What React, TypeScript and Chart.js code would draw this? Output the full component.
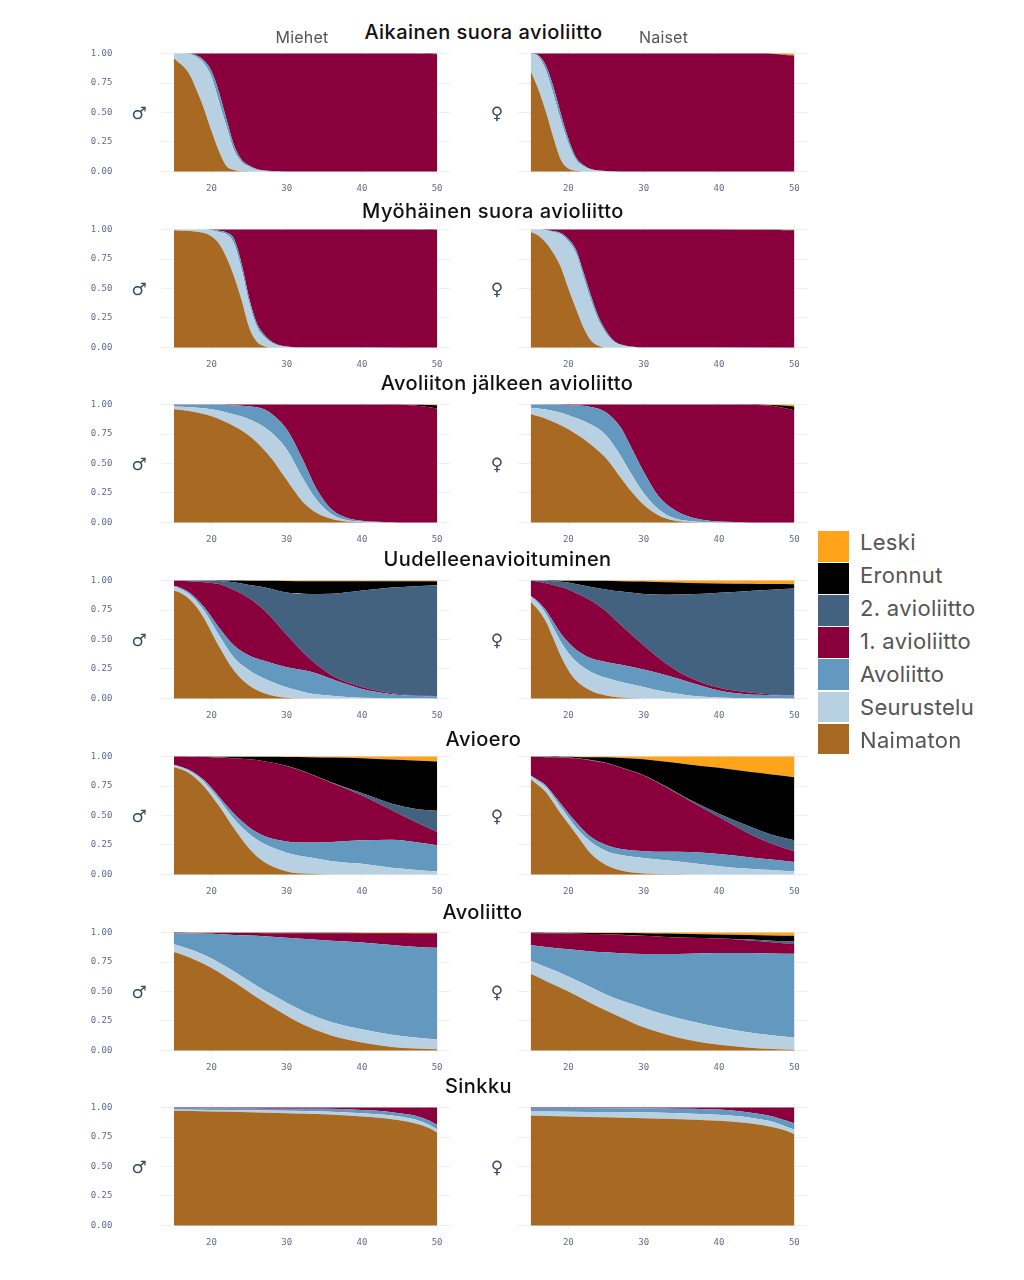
import React, { useEffect, useRef } from "react";
import { Chart, registerables } from "chart.js";

Chart.register(...registerables);

const STATE_NAMES = ["Naimaton", "Seurustelu", "Avoliitto", "1. avioliitto", "2. avioliitto", "Eronnut", "Leski"];
const STATE_COLORS = ["#a86922", "#b8d1e2", "#6399bf", "#89003c", "#42627f", "#000000", "#ffa31a"];
const PANEL_TITLES = ["Aikainen suora avioliitto", "Myöhäinen suora avioliitto", "Avoliiton jälkeen avioliitto", "Uudelleenavioituminen", "Avioero", "Avoliitto", "Sinkku"];
const Y_TICKS = [0, 0.25, 0.5, 0.75, 1];
const X_TICKS = [20, 30, 40, 50];

// Upper edge of each state in the stack, per panel and sex.
const A_M_AGE = [15, 17, 18, 19, 20, 21, 22, 23, 24, 25, 26, 27, 28, 30, 46, 48, 50];
const A_M_N = [0.96, 0.83, 0.69, 0.53, 0.34, 0.17, 0.045, 0.012, 0.001, 0, 0, 0, 0, 0, 0, 0, 0];
const A_M_S = [1, 0.995, 0.97, 0.915, 0.8, 0.59, 0.38, 0.18, 0.08, 0.04, 0.015, 0.005, 0, 0, 0, 0, 0];
const A_M_A = [1, 1, 0.985, 0.94, 0.85, 0.67, 0.44, 0.22, 0.1, 0.05, 0.02, 0.008, 0.003, 0, 0, 0, 0];
const A_M_1 = [1, 1, 1, 1, 1, 1, 1, 1, 1, 1, 1, 1, 1, 1, 1, 0.998, 0.995];
const A_M_2 = [1, 1, 1, 1, 1, 1, 1, 1, 1, 1, 1, 1, 1, 1, 1, 0.998, 0.995];
const A_M_E = [1, 1, 1, 1, 1, 1, 1, 1, 1, 1, 1, 1, 1, 1, 1, 1, 0.999];

const A_W_AGE = [15, 16, 17, 18, 19, 20, 21, 22, 23, 24, 25, 27, 46, 47, 48, 49, 50];
const A_W_N = [0.85, 0.7, 0.51, 0.29, 0.1, 0.025, 0.005, 0, 0, 0, 0, 0, 0, 0, 0, 0, 0];
const A_W_S = [1, 0.975, 0.86, 0.66, 0.435, 0.24, 0.1, 0.045, 0.017, 0.006, 0.002, 0, 0, 0, 0, 0, 0];
const A_W_A = [1, 0.985, 0.9, 0.72, 0.49, 0.28, 0.12, 0.055, 0.02, 0.008, 0.003, 0, 0, 0, 0, 0, 0];
const A_W_1 = [1, 1, 1, 1, 1, 1, 1, 1, 1, 1, 1, 1, 1, 0.998, 0.993, 0.985, 0.977];
const A_W_2 = [1, 1, 1, 1, 1, 1, 1, 1, 1, 1, 1, 1, 1, 0.998, 0.993, 0.985, 0.977];
const A_W_E = [1, 1, 1, 1, 1, 1, 1, 1, 1, 1, 1, 1, 1, 0.999, 0.995, 0.99, 0.982];

const B_M_AGE = [15, 19, 20, 21, 22, 23, 24, 25, 26, 27, 28, 29, 30, 32, 46, 48, 50];
const B_M_N = [0.995, 0.97, 0.94, 0.88, 0.76, 0.6, 0.4, 0.17, 0.05, 0.01, 0, 0, 0, 0, 0, 0, 0];
const B_M_S = [1, 1, 0.995, 0.98, 0.96, 0.88, 0.66, 0.38, 0.18, 0.09, 0.04, 0.015, 0.005, 0, 0, 0, 0];
const B_M_A = [1, 1, 0.998, 0.99, 0.975, 0.92, 0.71, 0.42, 0.21, 0.11, 0.05, 0.02, 0.008, 0.001, 0, 0, 0];
const B_M_1 = [1, 1, 1, 1, 1, 1, 1, 1, 1, 1, 1, 1, 1, 1, 1, 0.999, 0.996];
const B_M_2 = [1, 1, 1, 1, 1, 1, 1, 1, 1, 1, 1, 1, 1, 1, 1, 0.999, 0.996];
const B_M_E = [1, 1, 1, 1, 1, 1, 1, 1, 1, 1, 1, 1, 1, 1, 1, 1, 0.999];

const B_W_AGE = [15, 16, 17, 18, 19, 20, 21, 22, 23, 24, 25, 26, 27, 28, 30, 48, 50];
const B_W_N = [0.98, 0.95, 0.89, 0.8, 0.68, 0.5, 0.33, 0.17, 0.06, 0.015, 0, 0, 0, 0, 0, 0, 0];
const B_W_S = [1, 1, 0.995, 0.98, 0.96, 0.9, 0.8, 0.6, 0.4, 0.23, 0.12, 0.05, 0.02, 0.006, 0, 0, 0];
const B_W_A = [1, 1, 0.998, 0.985, 0.97, 0.92, 0.83, 0.64, 0.44, 0.26, 0.14, 0.06, 0.025, 0.01, 0.001, 0, 0];
const B_W_1 = [1, 1, 1, 1, 1, 1, 1, 1, 1, 1, 1, 1, 1, 1, 1, 0.997, 0.988];
const B_W_2 = [1, 1, 1, 1, 1, 1, 1, 1, 1, 1, 1, 1, 1, 1, 1, 0.997, 0.988];
const B_W_E = [1, 1, 1, 1, 1, 1, 1, 1, 1, 1, 1, 1, 1, 1, 1, 0.999, 0.993];

const C_AGE = [15, 17, 20, 23, 25, 27, 28, 30, 32, 34, 36, 38, 40, 42, 44, 46, 48, 50];
const C_M_N = [0.96, 0.945, 0.9, 0.815, 0.735, 0.615, 0.54, 0.36, 0.185, 0.08, 0.03, 0.008, 0.002, 0, 0, 0, 0, 0];
const C_M_S = [0.983, 0.977, 0.96, 0.915, 0.875, 0.81, 0.76, 0.62, 0.39, 0.19, 0.07, 0.02, 0.006, 0.002, 0, 0, 0, 0];
const C_M_A = [0.999, 0.999, 0.998, 0.995, 0.985, 0.96, 0.92, 0.79, 0.55, 0.28, 0.11, 0.04, 0.014, 0.005, 0.002, 0, 0, 0];
const C_M_1 = [1, 1, 1, 1, 1, 1, 1, 1, 1, 1, 1, 1, 1, 1, 1, 0.996, 0.985, 0.966];
const C_M_2 = [1, 1, 1, 1, 1, 1, 1, 1, 1, 1, 1, 1, 1, 1, 1, 0.996, 0.985, 0.966];
const C_M_E = [1, 1, 1, 1, 1, 1, 1, 1, 1, 1, 1, 1, 1, 1, 1, 0.999, 0.998, 0.995];

const C_W_N = [0.92, 0.88, 0.79, 0.66, 0.545, 0.375, 0.29, 0.15, 0.06, 0.017, 0.004, 0, 0, 0, 0, 0, 0, 0];
const C_W_S = [0.972, 0.957, 0.91, 0.83, 0.74, 0.56, 0.45, 0.25, 0.11, 0.037, 0.012, 0.003, 0, 0, 0, 0, 0, 0];
const C_W_A = [1, 0.999, 0.997, 0.98, 0.935, 0.8, 0.68, 0.43, 0.22, 0.11, 0.05, 0.02, 0.008, 0.003, 0, 0, 0, 0];
const C_W_1 = [1, 1, 1, 1, 1, 1, 1, 1, 1, 1, 1, 1, 1, 1, 0.998, 0.993, 0.98, 0.952];
const C_W_2 = [1, 1, 1, 1, 1, 1, 1, 1, 1, 1, 1, 1, 1, 1, 0.998, 0.993, 0.98, 0.952];
const C_W_E = [1, 1, 1, 1, 1, 1, 1, 1, 1, 1, 1, 1, 1, 1, 1, 0.998, 0.993, 0.983];

const D_AGE = [15, 16, 17, 18, 19, 20, 21, 23, 25, 27, 30, 33, 36, 40, 44, 47, 50];
const D_M_N = [0.915, 0.89, 0.845, 0.775, 0.68, 0.56, 0.44, 0.235, 0.11, 0.045, 0.006, 0, 0, 0, 0, 0, 0];
const D_M_S = [0.95, 0.925, 0.885, 0.825, 0.745, 0.645, 0.535, 0.345, 0.24, 0.17, 0.095, 0.045, 0.023, 0.006, 0.002, 0.001, 0];
const D_M_A = [0.955, 0.935, 0.9, 0.845, 0.775, 0.69, 0.6, 0.45, 0.365, 0.32, 0.265, 0.23, 0.165, 0.08, 0.036, 0.022, 0.016];
const D_M_1 = [0.999, 0.998, 0.995, 0.991, 0.986, 0.98, 0.97, 0.92, 0.85, 0.75, 0.54, 0.34, 0.195, 0.097, 0.045, 0.028, 0.02];
const D_M_2 = [1, 1, 1, 0.999, 0.998, 0.998, 0.997, 0.985, 0.963, 0.943, 0.898, 0.886, 0.888, 0.915, 0.94, 0.952, 0.96];
const D_M_E = [1, 1, 1, 1, 1, 1, 1, 1, 0.999, 0.998, 0.997, 0.995, 0.995, 0.995, 0.994, 0.993, 0.993];

const D_W_N = [0.82, 0.75, 0.655, 0.51, 0.36, 0.24, 0.155, 0.065, 0.025, 0.008, 0, 0, 0, 0, 0, 0, 0];
const D_W_S = [0.865, 0.807, 0.72, 0.6, 0.48, 0.385, 0.315, 0.225, 0.175, 0.14, 0.097, 0.054, 0.026, 0.008, 0.003, 0.001, 0];
const D_W_A = [0.87, 0.82, 0.75, 0.65, 0.55, 0.475, 0.415, 0.34, 0.31, 0.285, 0.245, 0.196, 0.14, 0.068, 0.034, 0.028, 0.023];
const D_W_1 = [1, 0.99, 0.977, 0.962, 0.945, 0.925, 0.895, 0.83, 0.74, 0.62, 0.45, 0.295, 0.18, 0.09, 0.05, 0.034, 0.026];
const D_W_2 = [1, 1, 0.998, 0.995, 0.99, 0.983, 0.97, 0.945, 0.925, 0.906, 0.886, 0.88, 0.883, 0.897, 0.912, 0.922, 0.932];
const D_W_E = [1, 1, 1, 1, 0.999, 0.999, 0.999, 0.999, 0.998, 0.995, 0.992, 0.985, 0.98, 0.975, 0.972, 0.97, 0.969];

const E_AGE = [15, 16, 17, 18, 19, 20, 21, 23, 25, 27, 30, 33, 36, 40, 44, 47, 50];
const E_M_N = [0.91, 0.89, 0.86, 0.81, 0.745, 0.665, 0.58, 0.39, 0.22, 0.105, 0.025, 0.005, 0, 0, 0, 0, 0];
const E_M_S = [0.926, 0.908, 0.88, 0.84, 0.785, 0.715, 0.635, 0.47, 0.345, 0.26, 0.185, 0.145, 0.113, 0.09, 0.057, 0.04, 0.025];
const E_M_A = [0.93, 0.912, 0.888, 0.85, 0.8, 0.735, 0.66, 0.515, 0.4, 0.326, 0.28, 0.27, 0.275, 0.29, 0.295, 0.275, 0.247];
const E_M_1 = [1, 1, 0.999, 0.998, 0.997, 0.995, 0.992, 0.985, 0.977, 0.96, 0.92, 0.855, 0.776, 0.67, 0.545, 0.45, 0.36];
const E_M_2 = [1, 1, 1, 0.999, 0.998, 0.996, 0.993, 0.986, 0.978, 0.961, 0.921, 0.857, 0.78, 0.69, 0.6, 0.558, 0.54];
const E_M_E = [1, 1, 1, 1, 1, 0.999, 0.999, 0.999, 0.998, 0.998, 0.997, 0.995, 0.992, 0.986, 0.974, 0.966, 0.958];

const E_W_N = [0.807, 0.756, 0.7, 0.61, 0.515, 0.43, 0.345, 0.175, 0.08, 0.034, 0.008, 0.001, 0, 0, 0, 0, 0];
const E_W_S = [0.835, 0.79, 0.742, 0.66, 0.57, 0.485, 0.4, 0.275, 0.2, 0.165, 0.14, 0.12, 0.1, 0.07, 0.048, 0.037, 0.025];
const E_W_A = [0.84, 0.8, 0.756, 0.68, 0.6, 0.52, 0.445, 0.317, 0.25, 0.215, 0.197, 0.192, 0.19, 0.173, 0.147, 0.127, 0.105];
const E_W_1 = [1, 0.997, 0.995, 0.993, 0.991, 0.988, 0.985, 0.967, 0.945, 0.905, 0.84, 0.74, 0.63, 0.487, 0.345, 0.26, 0.195];
const E_W_2 = [1, 1, 0.998, 0.996, 0.994, 0.991, 0.988, 0.97, 0.948, 0.908, 0.842, 0.745, 0.637, 0.515, 0.408, 0.337, 0.29];
const E_W_E = [1, 1, 1, 1, 0.999, 0.998, 0.997, 0.995, 0.994, 0.988, 0.977, 0.955, 0.932, 0.904, 0.87, 0.847, 0.824];

const F_AGE = [15, 17, 20, 23, 25, 27, 30, 33, 36, 40, 44, 47, 50];
const F_M_N = [0.835, 0.79, 0.7, 0.58, 0.494, 0.41, 0.295, 0.196, 0.125, 0.068, 0.03, 0.017, 0.01];
const F_M_S = [0.9, 0.86, 0.78, 0.67, 0.59, 0.51, 0.405, 0.31, 0.24, 0.18, 0.134, 0.11, 0.094];
const F_M_A = [0.997, 0.993, 0.989, 0.98, 0.974, 0.968, 0.955, 0.943, 0.93, 0.915, 0.895, 0.88, 0.87];
const F_M_1 = [0.999, 0.998, 0.997, 0.996, 0.996, 0.995, 0.995, 0.994, 0.994, 0.993, 0.993, 0.992, 0.992];
const F_M_2 = [0.999, 0.998, 0.997, 0.997, 0.996, 0.996, 0.995, 0.995, 0.994, 0.994, 0.993, 0.993, 0.993];
const F_M_E = [1, 0.999, 0.999, 0.998, 0.998, 0.998, 0.998, 0.998, 0.998, 0.997, 0.997, 0.997, 0.997];

const F_W_N = [0.65, 0.59, 0.5, 0.4, 0.338, 0.28, 0.196, 0.135, 0.088, 0.048, 0.024, 0.012, 0.006];
const F_W_S = [0.76, 0.707, 0.628, 0.537, 0.474, 0.423, 0.36, 0.3, 0.253, 0.196, 0.153, 0.13, 0.11];
const F_W_A = [0.892, 0.878, 0.858, 0.84, 0.832, 0.825, 0.818, 0.818, 0.82, 0.827, 0.827, 0.823, 0.82];
const F_W_1 = [0.997, 0.993, 0.99, 0.987, 0.985, 0.98, 0.972, 0.962, 0.955, 0.949, 0.933, 0.918, 0.903];
const F_W_2 = [0.998, 0.994, 0.991, 0.988, 0.986, 0.981, 0.973, 0.963, 0.956, 0.95, 0.94, 0.93, 0.923];
const F_W_E = [1, 0.999, 0.998, 0.997, 0.997, 0.996, 0.994, 0.991, 0.987, 0.983, 0.979, 0.975, 0.972];

const G_AGE = [15, 20, 25, 30, 35, 40, 43, 45, 47, 49, 50];
const G_M_N = [0.972, 0.966, 0.96, 0.952, 0.944, 0.924, 0.91, 0.893, 0.867, 0.825, 0.788];
const G_M_S = [0.983, 0.98, 0.976, 0.972, 0.966, 0.952, 0.938, 0.924, 0.9, 0.852, 0.816];
const G_M_A = [0.997, 0.995, 0.992, 0.989, 0.989, 0.98, 0.969, 0.952, 0.932, 0.887, 0.853];
const G_M_1 = [1, 1, 1, 1, 1, 1, 1, 1, 1, 1, 1];

const G_W_N = [0.932, 0.925, 0.918, 0.91, 0.9, 0.887, 0.873, 0.859, 0.836, 0.802, 0.774];
const G_W_S = [0.966, 0.965, 0.962, 0.96, 0.952, 0.938, 0.924, 0.904, 0.881, 0.836, 0.814];
const G_W_A = [0.997, 0.996, 0.995, 0.994, 0.99, 0.983, 0.966, 0.949, 0.927, 0.887, 0.867];
const G_W_1 = [1, 1, 1, 1, 1, 1, 1, 1, 1, 1, 1];

const PANELS: { row: number; men: boolean; ages: number[]; tops: number[][] }[] = [
  { row: 0, men: true, ages: A_M_AGE, tops: [A_M_N, A_M_S, A_M_A, A_M_1, A_M_2, A_M_E] },
  { row: 0, men: false, ages: A_W_AGE, tops: [A_W_N, A_W_S, A_W_A, A_W_1, A_W_2, A_W_E] },
  { row: 1, men: true, ages: B_M_AGE, tops: [B_M_N, B_M_S, B_M_A, B_M_1, B_M_2, B_M_E] },
  { row: 1, men: false, ages: B_W_AGE, tops: [B_W_N, B_W_S, B_W_A, B_W_1, B_W_2, B_W_E] },
  { row: 2, men: true, ages: C_AGE, tops: [C_M_N, C_M_S, C_M_A, C_M_1, C_M_2, C_M_E] },
  { row: 2, men: false, ages: C_AGE, tops: [C_W_N, C_W_S, C_W_A, C_W_1, C_W_2, C_W_E] },
  { row: 3, men: true, ages: D_AGE, tops: [D_M_N, D_M_S, D_M_A, D_M_1, D_M_2, D_M_E] },
  { row: 3, men: false, ages: D_AGE, tops: [D_W_N, D_W_S, D_W_A, D_W_1, D_W_2, D_W_E] },
  { row: 4, men: true, ages: E_AGE, tops: [E_M_N, E_M_S, E_M_A, E_M_1, E_M_2, E_M_E] },
  { row: 4, men: false, ages: E_AGE, tops: [E_W_N, E_W_S, E_W_A, E_W_1, E_W_2, E_W_E] },
  { row: 5, men: true, ages: F_AGE, tops: [F_M_N, F_M_S, F_M_A, F_M_1, F_M_2, F_M_E] },
  { row: 5, men: false, ages: F_AGE, tops: [F_W_N, F_W_S, F_W_A, F_W_1, F_W_2, F_W_E] },
  { row: 6, men: true, ages: G_AGE, tops: [G_M_N, G_M_S, G_M_A, G_M_1, G_M_1, G_M_1] },
  { row: 6, men: false, ages: G_AGE, tops: [G_W_N, G_W_S, G_W_A, G_W_1, G_W_1, G_W_1] },
];

// Page layout
const ROW_TOP = 50;
const ROW_STEP = 175.7;
const TOP_PAD = 6;
const PLOT_H = 125;
const AXIS_H = 25;
const CANVAS_H = TOP_PAD + PLOT_H + AXIS_H;
const LAYOUT = {
  men: { left: 80, width: 380, axis: 80.8, plot: 289.4 },
  women: { left: 470, width: 345, axis: 47.5, plot: 290 },
};
const TITLE_POS = [
  [483.5, 32], [493, 211], [507, 383], [497.5, 559], [483.5, 739], [482.5, 912], [478.5, 1086],
];
const TITLE_FONT = '"Inter", "Open Sans", sans-serif';
const TICK_FONT = "DejaVu Sans Mono";
const TICK_COLOR = "#5c6c88";
const GRID_COLOR = "#efefef";

function sharesFrom(tops: number[][]): number[][] {
  const all = [...tops, tops[0].map(() => 1)];
  return all.map((t, s) => t.map((v, i) => Math.max(0, +(v - (s ? all[s - 1][i] : 0)).toFixed(4))));
}

function zeroPadding(a: any) {
  a.paddingTop = 0;
  a.paddingBottom = 0;
  a.paddingLeft = 0;
  a.paddingRight = 0;
}

function Panel({ spec }: { spec: (typeof PANELS)[number] }) {
  const ref = useRef<HTMLCanvasElement | null>(null);
  const L = spec.men ? LAYOUT.men : LAYOUT.women;
  useEffect(() => {
    const shares = sharesFrom(spec.tops);
    const chart = new Chart(ref.current as HTMLCanvasElement, {
      type: "line",
      data: {
        datasets: shares.map((vals, s) => ({
          label: STATE_NAMES[s],
          data: vals.map((y, i) => ({ x: spec.ages[i], y })),
          backgroundColor: STATE_COLORS[s],
          borderWidth: 0,
          pointRadius: 0,
          fill: s === 0 ? "origin" : "-1",
          cubicInterpolationMode: "monotone",
        })),
      },
      options: {
        animation: false,
        responsive: false,
        layout: { padding: { left: 0, top: TOP_PAD, bottom: 0, right: L.width - L.axis - L.plot } },
        plugins: { legend: { display: false }, tooltip: { enabled: false }, title: { display: false } },
        scales: {
          x: {
            type: "linear",
            min: 13.25,
            max: 51.75,
            grid: { color: GRID_COLOR, drawTicks: false, lineWidth: 1 },
            border: { display: false },
            afterBuildTicks: (a: any) => { a.ticks = X_TICKS.map((value) => ({ value })); },
            afterFit: (a: any) => { a.height = AXIS_H; zeroPadding(a); },
            ticks: { font: { family: TICK_FONT, size: 9 }, color: TICK_COLOR, padding: 8, maxRotation: 0, autoSkip: false },
          },
          y: {
            stacked: true,
            min: -0.03,
            max: 1.03,
            grid: { color: GRID_COLOR, drawTicks: false, lineWidth: 1 },
            border: { display: false },
            afterBuildTicks: (a: any) => { a.ticks = Y_TICKS.map((value) => ({ value })); },
            afterFit: (a: any) => { a.width = L.axis; zeroPadding(a); },
            ticks: {
              display: spec.men,
              font: { family: TICK_FONT, size: 9 },
              color: TICK_COLOR,
              padding: 48.5,
              autoSkip: false,
              callback: (v: any) => Number(v).toFixed(2),
            },
          },
        },
      },
    } as any);
    return () => chart.destroy();
  }, []);
  return (
    <canvas
      ref={ref}
      width={L.width}
      height={CANVAS_H}
      style={{ position: "absolute", left: L.left, top: ROW_TOP - TOP_PAD + spec.row * ROW_STEP, width: L.width, height: CANVAS_H }}
    />
  );
}

function Label(props: { x: number; y: number; text: string; size: number; color: string; weight?: number; font?: string; spacing?: number }) {
  return (
    <div
      style={{
        position: "absolute",
        left: props.x,
        top: props.y,
        transform: "translate(-50%, -50%)",
        whiteSpace: "nowrap",
        fontFamily: props.font ?? TITLE_FONT,
        fontSize: props.size,
        fontWeight: props.weight ?? 400,
        color: props.color,
        letterSpacing: props.spacing ?? 0,
        lineHeight: 1,
      }}
    >
      {props.text}
    </div>
  );
}

export default function App() {
  return (
    <div style={{ position: "absolute", left: 0, top: 0, width: 1024, height: 1280, background: "#fff", overflow: "hidden" }}>
      {PANELS.map((p, i) => <Panel key={i} spec={p} />)}
      {PANEL_TITLES.map((t, i) => (
        <Label key={t} x={TITLE_POS[i][0]} y={TITLE_POS[i][1]} text={t} size={20} spacing={0.45} weight={500} color="#111" />
      ))}
      <Label x={302} y={37} text="Miehet" size={16} spacing={0.2} color="#555" />
      <Label x={663.5} y={37} text="Naiset" size={16} spacing={0.2} color="#555" />
      {PANEL_TITLES.map((t, i) => (
        <React.Fragment key={t}>
          <Label x={139} y={113 + i * ROW_STEP} text="♂" size={17} color="#34495e" font="DejaVu Sans" />
          <Label x={497} y={113 + i * ROW_STEP} text="♀" size={17} color="#34495e" font="DejaVu Sans" />
        </React.Fragment>
      ))}
      {[...STATE_NAMES].reverse().map((name, i) => (
        <React.Fragment key={name}>
          <div
            style={{
              position: "absolute",
              left: 817.5,
              top: 531 + i * 32.1,
              width: 31,
              height: 30.5,
              background: STATE_COLORS[STATE_COLORS.length - 1 - i],
            }}
          />
          <div
            style={{
              position: "absolute",
              left: 860,
              top: 541.7 + i * 33.05,
              transform: "translateY(-50%)",
              fontFamily: TITLE_FONT,
              fontSize: 22,
              letterSpacing: 0.3,
              color: "#555",
              whiteSpace: "nowrap",
              lineHeight: 1,
            }}
          >
            {name}
          </div>
        </React.Fragment>
      ))}
    </div>
  );
}
